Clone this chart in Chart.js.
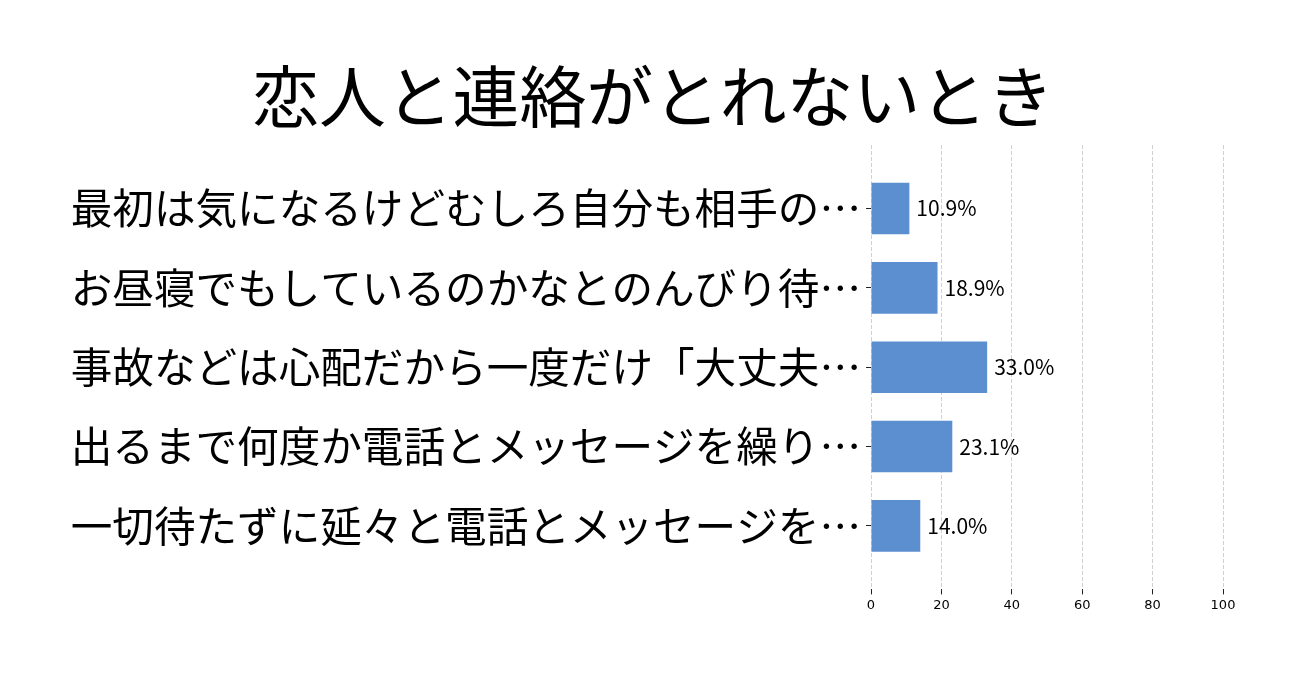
<!DOCTYPE html>
<html lang="ja">
<head>
<meta charset="utf-8">
<title>恋人と連絡がとれないとき</title>
<script src="https://cdn.jsdelivr.net/npm/chart.js@4/dist/chart.umd.min.js"></script>
<style>
  html, body { margin: 0; padding: 0; background: #fff; }
  #wrap { width: 1306px; height: 683px; }
</style>
</head>
<body>
<div id="wrap"><canvas id="myChart"></canvas></div>
<script>
const titleText = "恋人と連絡がとれないとき";
const categories = [
    "最初は気になるけどむしろ自分も相手の…",
    "お昼寝でもしているのかなとのんびり待…",
    "事故などは心配だから一度だけ「大丈夫…",
    "出るまで何度か電話とメッセージを繰り…",
    "一切待たずに延々と電話とメッセージを…"
];
const percents = [10.9, 18.9, 33.0, 23.1, 14.0];
const xTicks = [0, 20, 40, 60, 80, 100];

const cjk = "'Noto Sans CJK JP', 'Noto Sans', sans-serif";

// writes "xx.x%" just right of each bar
const valueLabels = {
    id: "valueLabels",
    afterDatasetsDraw(chart) {
        const ctx = chart.ctx;
        const meta = chart.getDatasetMeta(0);
        ctx.save();
        ctx.font = "21px " + cjk;
        ctx.fillStyle = "#000";
        ctx.textAlign = "left";
        ctx.textBaseline = "middle";
        meta.data.forEach((bar, i) => {
            ctx.fillText(percents[i].toFixed(1) + "%", bar.x + 7, bar.y);
        });
        ctx.restore();
    }
};

// title centred on the whole canvas (the plot itself sits off-centre)
const pageTitle = {
    id: "pageTitle",
    afterDraw(chart) {
        const ctx = chart.ctx;
        ctx.save();
        ctx.font = "66.8px " + cjk;
        ctx.fillStyle = "#000";
        ctx.textAlign = "center";
        ctx.textBaseline = "middle";
        ctx.fillText(titleText, chart.width / 2, 97);
        ctx.restore();
    }
};

const myChart = document.getElementById("myChart");
const chart = new Chart(myChart, {
    type: "bar",
    data: {
        datasets: [{
            data: percents.map((v, i) => ({ x: v, y: i })),
            backgroundColor: "#5b8fcf",
            borderWidth: 0,
            categoryPercentage: 1,
            barPercentage: 0.65
        }]
    },
    options: {
        indexAxis: "y",
        responsive: true,
        maintainAspectRatio: false,
        animation: false,
        layout: { padding: { left: 40, right: 83, top: 145, bottom: 67 } },
        plugins: {
            legend: { display: false },
            tooltip: { enabled: false },
            title: { display: false }
        },
        scales: {
            x: {
                type: "linear",
                position: "bottom",
                min: 0,
                max: 100,
                afterBuildTicks: (scale) => { scale.ticks = xTicks.map(v => ({ value: v })); },
                border: { display: false, dash: [4, 2] },
                grid: {
                    color: "#d0d0d0",
                    lineWidth: 1,
                    drawTicks: true,
                    tickLength: 5,
                    tickColor: "#222",
                    tickWidth: 1
                },
                ticks: {
                    color: "#000",
                    padding: 3,
                    font: { family: "'DejaVu Sans', sans-serif", size: 13 }
                }
            },
            y: {
                type: "linear",
                reverse: true,
                offset: false,
                min: -0.8,
                max: 4.8,
                afterBuildTicks: (scale) => { scale.ticks = categories.map((c, i) => ({ value: i })); },
                // fixed width so the plot starts where the reference one does
                afterFit: (scale) => { scale.width = 831; },
                border: { display: false },
                grid: {
                    offset: false,
                    drawOnChartArea: false,
                    drawTicks: true,
                    tickLength: 5,
                    tickColor: "#222",
                    tickWidth: 1
                },
                ticks: {
                    autoSkip: false,
                    color: "#000",
                    padding: 5,
                    font: { family: cjk, size: 41.6 },
                    callback: (value) => categories[value]
                }
            }
        }
    },
    plugins: [valueLabels, pageTitle]
});
</script>
</body>
</html>
